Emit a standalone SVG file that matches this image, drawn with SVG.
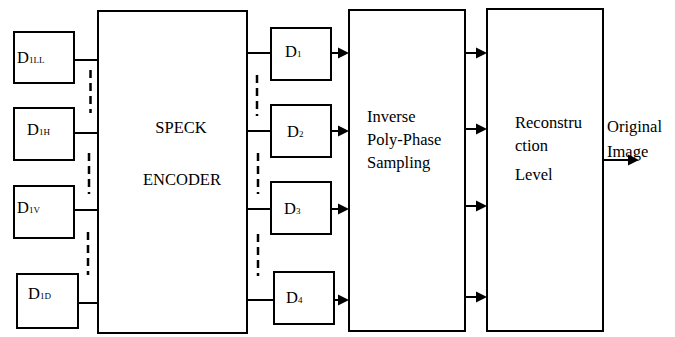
<svg xmlns="http://www.w3.org/2000/svg" width="675" height="337" viewBox="0 0 675 337" font-family="'Liberation Serif', 'DejaVu Serif', serif">
<style>
.box{fill:#fff;stroke:#000;stroke-width:2}
.ln{stroke:#000;stroke-width:2;fill:none}
.dash{stroke:#000;stroke-width:2.5;stroke-dasharray:8,5;fill:none}
.t{font-family:'Liberation Serif','DejaVu Serif',serif;font-size:16.5px;fill:#000}
.sub{font-size:9px}
.ah{fill:#000}
</style>
<rect width="675" height="337" fill="#fff"/>
<g id="connectors">
<line class="ln" x1="74" y1="60" x2="98" y2="60"/>
<line class="ln" x1="74" y1="133" x2="98" y2="133"/>
<line class="ln" x1="74" y1="210" x2="98" y2="210"/>
<line class="ln" x1="78" y1="303" x2="98" y2="303"/>
<line class="dash" x1="90.5" y1="70" x2="90.5" y2="113"/>
<line class="dash" x1="89" y1="153" x2="89" y2="194"/>
<line class="dash" x1="88" y1="232" x2="88" y2="275"/>
<line class="ln" x1="247" y1="53" x2="271" y2="53"/>
<line class="ln" x1="247" y1="131" x2="271" y2="131"/>
<line class="ln" x1="247" y1="209" x2="271" y2="209"/>
<line class="ln" x1="247" y1="300" x2="274" y2="300"/>
<line class="dash" x1="257" y1="75" x2="257" y2="116"/>
<line class="dash" x1="258" y1="153" x2="258" y2="194"/>
<line class="dash" x1="258" y1="234" x2="258" y2="276"/>
<line class="ln" x1="331" y1="53" x2="340" y2="53"/><path class="ah" d="M338,47.5 L349,53 L338,58.5 Z"/>
<line class="ln" x1="331" y1="131" x2="340" y2="131"/><path class="ah" d="M338,125.5 L349,131 L338,136.5 Z"/>
<line class="ln" x1="331" y1="209" x2="340" y2="209"/><path class="ah" d="M338,203.5 L349,209 L338,214.5 Z"/>
<line class="ln" x1="334" y1="300" x2="340" y2="300"/><path class="ah" d="M338,294.5 L349,300 L338,305.5 Z"/>
<line class="ln" x1="465" y1="53" x2="478" y2="53"/><path class="ah" d="M476,47.5 L487,53 L476,58.5 Z"/>
<line class="ln" x1="465" y1="129" x2="478" y2="129"/><path class="ah" d="M476,123.5 L487,129 L476,134.5 Z"/>
<line class="ln" x1="465" y1="206" x2="478" y2="206"/><path class="ah" d="M476,200.5 L487,206 L476,211.5 Z"/>
<line class="ln" x1="465" y1="297" x2="478" y2="297"/><path class="ah" d="M476,291.5 L487,297 L476,302.5 Z"/>
<line class="ln" x1="603" y1="160" x2="630" y2="160"/><path class="ah" d="M628,154.5 L639,160 L628,165.5 Z"/>
</g>
<g id="d1ll"><rect class="box" x="14" y="32" width="60" height="51"/><text class="t" x="17" y="63">D<tspan class="sub">1LL</tspan></text></g>
<g id="d1h"><rect class="box" x="14" y="108" width="60" height="52"/><text class="t" x="27" y="135">D<tspan class="sub">1H</tspan></text></g>
<g id="d1v"><rect class="box" x="14" y="186" width="60" height="52"/><text class="t" x="17" y="213">D<tspan class="sub">1V</tspan></text></g>
<g id="d1d"><rect class="box" x="17" y="274" width="61" height="54"/><text class="t" x="28" y="299">D<tspan class="sub">1D</tspan></text></g>
<g id="speck"><rect class="box" x="98" y="11" width="149" height="322"/><text class="t" x="181" y="133" text-anchor="middle">SPECK</text><text class="t" x="182" y="185" text-anchor="middle">ENCODER</text></g>
<g id="d1"><rect class="box" x="271" y="28" width="60" height="52"/><text class="t" x="285" y="57">D<tspan class="sub">1</tspan></text></g>
<g id="d2"><rect class="box" x="271" y="105" width="60" height="52"/><text class="t" x="287" y="137">D<tspan class="sub">2</tspan></text></g>
<g id="d3"><rect class="box" x="271" y="182" width="60" height="52"/><text class="t" x="284" y="214">D<tspan class="sub">3</tspan></text></g>
<g id="d4"><rect class="box" x="274" y="272" width="60" height="52"/><text class="t" x="286" y="303">D<tspan class="sub">4</tspan></text></g>
<g id="ipps"><rect class="box" x="349" y="10" width="116" height="321"/><text class="t" x="367" y="122">Inverse</text><text class="t" x="367" y="145">Poly-Phase</text><text class="t" x="367" y="168">Sampling</text></g>
<g id="recon"><rect class="box" x="487" y="9" width="116" height="322"/><text class="t" x="515" y="128">Reconstru</text><text class="t" x="515" y="151">ction</text><text class="t" x="515" y="180">Level</text></g>
<g id="output"><text class="t" x="607" y="132">Original</text><text class="t" x="607" y="157">Image</text></g>
</svg>
